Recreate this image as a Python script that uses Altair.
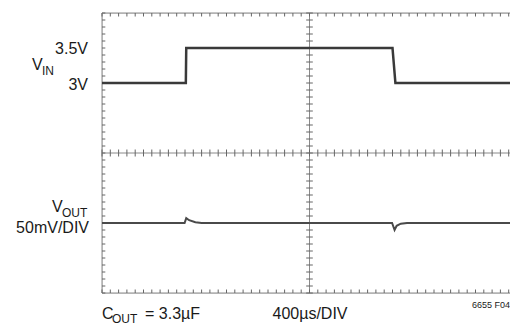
import altair as alt
import pandas as pd

# Oscilloscope screen: 10 horizontal divisions (400 µs/DIV), 8 vertical divisions
# V_IN trace (volts), time in divisions
vin_t = [0, 2.02, 2.03, 7.00, 7.07, 10]
vin_v = [3.0, 3.0, 3.5, 3.5, 3.0, 3.0]
# V_OUT trace deviation (mV, 50 mV/DIV), time in divisions
vout_t = [0, 1.99, 2.03, 2.10, 2.25, 2.40, 6.99, 7.05, 7.10, 7.20, 7.35, 10]
vout_mv = [0, 0, 7, 4, 1, 0, 0, -10, -4, -1, 0, 0]

VIN_BASE_DIV = 6      # 3V sits on division 6
VIN_V_PER_DIV = 0.5
VOUT_BASE_DIV = 2     # V_OUT trace rests on division 2
VOUT_MV_PER_DIV = 50

vin_df = pd.DataFrame({"t": vin_t, "d": [VIN_BASE_DIV + (v - 3.0) / VIN_V_PER_DIV for v in vin_v]})
vout_df = pd.DataFrame({"t": vout_t, "d": [VOUT_BASE_DIV + m / VOUT_MV_PER_DIV for m in vout_mv]})

DIV_PX = 41.5
W, H = 408, 280          # screen continues past the right edge of the picture
X_MAX = W / DIV_PX
FONT = "Liberation Sans"

xs = alt.Scale(domain=[0, X_MAX], nice=False, zero=False)
ys = alt.Scale(domain=[0, 8], nice=False, zero=False)

# grid (dotted) via axes
grid_df = pd.DataFrame({"t": [0], "d": [0]})
grid = alt.Chart(grid_df).mark_point(opacity=0).encode(
    x=alt.X("t:Q", scale=xs, axis=alt.Axis(values=list(range(1, 10)), grid=True, labels=False,
                                           ticks=False, domain=False, title=None,
                                           gridDash=[2, 6], gridColor="#9a9a9a", gridWidth=1)),
    y=alt.Y("d:Q", scale=ys, axis=alt.Axis(values=list(range(1, 8)), grid=True, labels=False,
                                           ticks=False, domain=False, title=None,
                                           gridDash=[2, 6], gridColor="#9a9a9a", gridWidth=1)),
)

# frame edges and centre cross
hlines = pd.DataFrame({"y": [0, 8, 4]})
vlines = pd.DataFrame({"x": [0, 5]})
h_rule = alt.Chart(hlines).mark_rule(color="#8a8a8a", strokeWidth=1).encode(
    y=alt.Y("y:Q", scale=ys, axis=None), x=alt.value(0), x2=alt.value(W))
v_rule = alt.Chart(vlines).mark_rule(color="#8a8a8a", strokeWidth=1).encode(
    x=alt.X("x:Q", scale=xs, axis=None), y=alt.value(0), y2=alt.value(H))

# minor ticks (5 per division)
xt = [k / 5 for k in range(0, 50)]
yt = [k / 5 for k in range(0, 41)]
tick_rows = []
for x in xt:
    tick_rows.append({"x": x, "x2": x, "y": 8, "y2": 7.9})   # top edge
    tick_rows.append({"x": x, "x2": x, "y": 0, "y2": 0.1})   # bottom edge
    tick_rows.append({"x": x, "x2": x, "y": 3.9, "y2": 4.1})  # centre line
for y in yt:
    tick_rows.append({"x": 0, "x2": 0.08, "y": y, "y2": y})  # left edge
    tick_rows.append({"x": 4.92, "x2": 5.08, "y": y, "y2": y})  # centre line
ticks = alt.Chart(pd.DataFrame(tick_rows)).mark_rule(color="#666", strokeWidth=1).encode(
    x=alt.X("x:Q", scale=xs, axis=None), x2="x2:Q",
    y=alt.Y("y:Q", scale=ys, axis=None), y2="y2:Q")

vin_line = alt.Chart(vin_df).mark_line(color="#3a3a3a", strokeWidth=2.5, clip=True).encode(
    x=alt.X("t:Q", scale=xs, axis=None), y=alt.Y("d:Q", scale=ys, axis=None), order="t:Q")
vout_line = alt.Chart(vout_df).mark_line(color="#4a4a4a", strokeWidth=2, clip=True).encode(
    x=alt.X("t:Q", scale=xs, axis=None), y=alt.Y("d:Q", scale=ys, axis=None), order="t:Q")

one = pd.DataFrame({"a": [0]})


def label(text, x, y, size=16, align="left", color="#1a1a1a"):
    return alt.Chart(one).mark_text(text=text, align=align, baseline="alphabetic", fontSize=size,
                                    font=FONT, color=color).encode(x=alt.value(x), y=alt.value(y))


labels = [
    label("3.5V", -14, 40.5, align="right"),
    label("V", -70, 57),
    label("IN", -60, 62, size=12),
    label("3V", -14, 77, align="right"),
    label("V", -50, 199),
    label("OUT", -40, 204, size=12),
    label("50mV/DIV", -13, 220, align="right"),
    label("C", 0, 306),
    label("OUT", 10, 310, size=12),
    label("= 3.3µF", 43, 306),
    label("400µs/DIV", 208, 306, align="center"),
    label("6655 F04", W, 295, size=9, align="right"),
]

chart = alt.layer(grid, h_rule, v_rule, ticks, vin_line, vout_line, *labels).properties(
    width=W, height=H,
    autosize=alt.AutoSizeParams(type="none"),
    padding={"left": 94, "top": 5, "right": 0, "bottom": 32},
).configure_view(stroke=None).configure(background="white")

chart.save("out.html", embed_options={"renderer": "svg", "actions": False})
